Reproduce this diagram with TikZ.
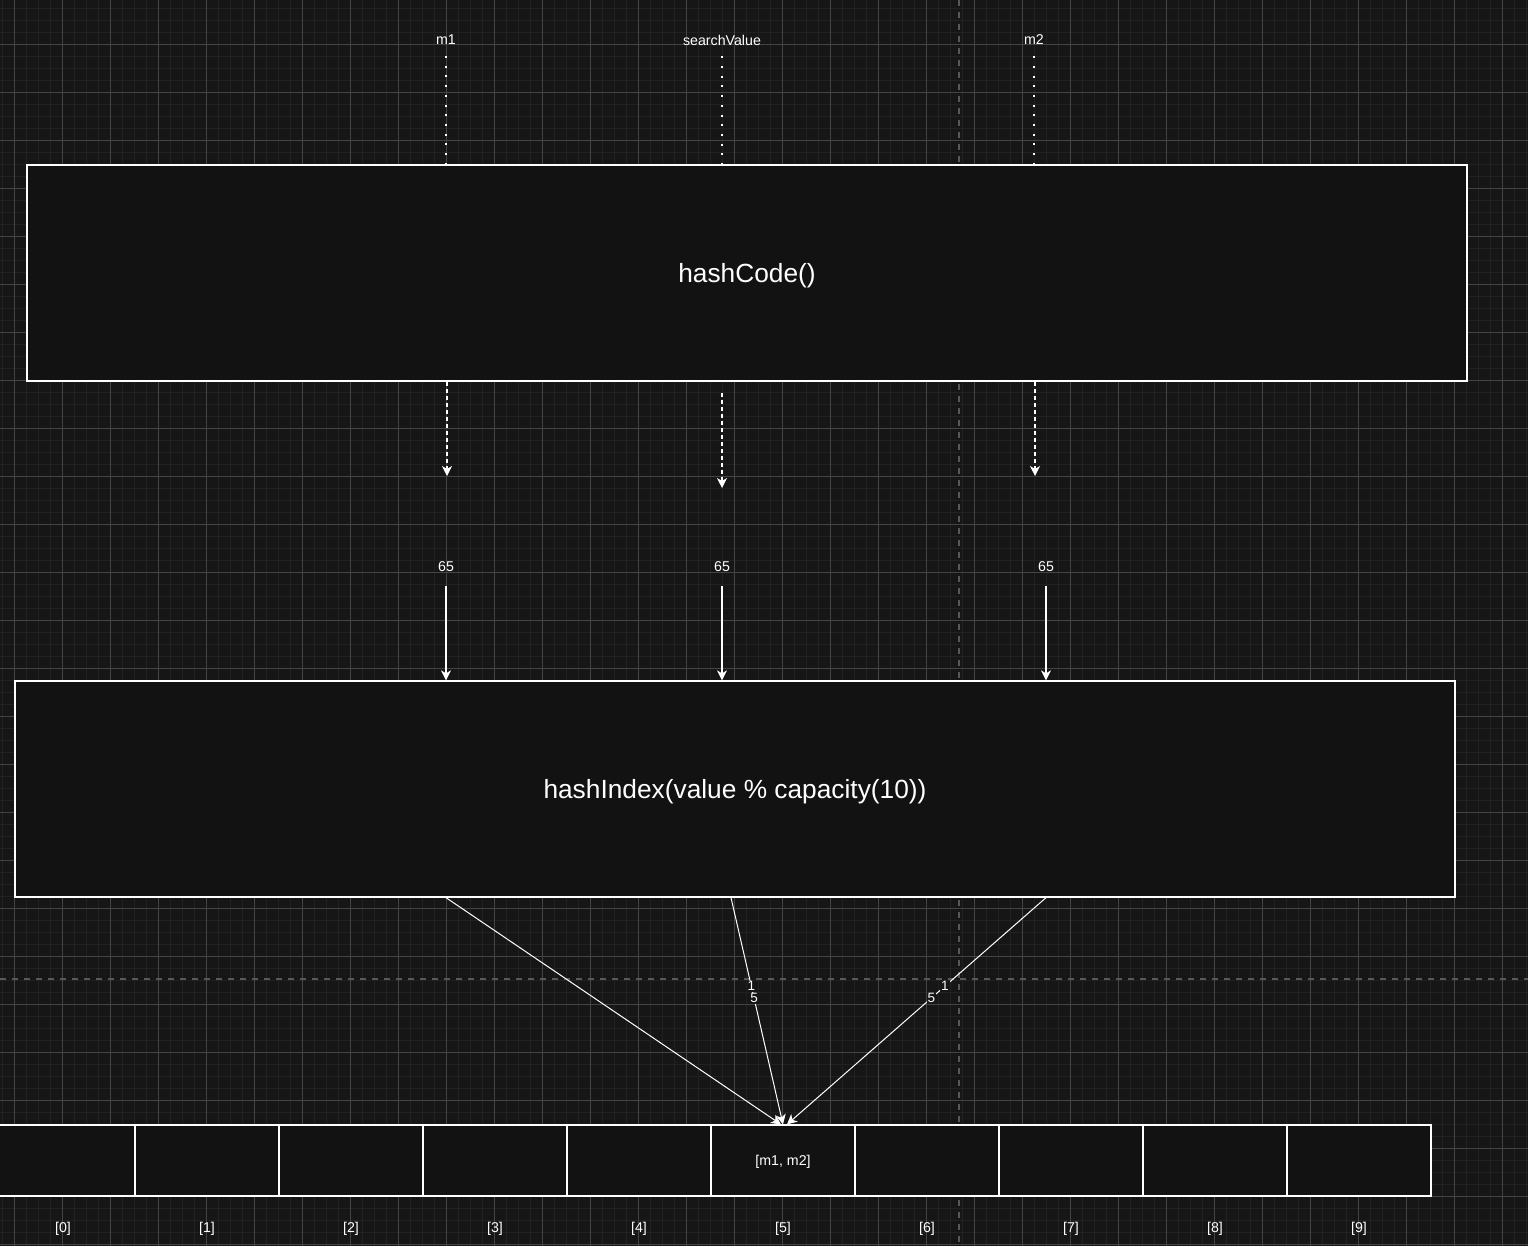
\documentclass[tikz,border=0pt]{standalone}
\usepackage{fontspec}
\setmainfont{Liberation Sans}
\usetikzlibrary{arrows.meta}

\definecolor{bgcol}{HTML}{161616}
\definecolor{boxcol}{HTML}{121212}
\definecolor{minorcol}{HTML}{212121}
\definecolor{majorcol}{HTML}{444444}
\definecolor{guidecol}{HTML}{585858}

\tikzset{
  box/.style={draw=white, line width=1.3pt, fill=boxcol, inner sep=0pt,
    minimum width=1440pt, minimum height=216pt, text=white, text depth=0pt,
    node font={\fontsize{26.3}{30}\selectfont}},
  cell/.style={draw=white, line width=1.2pt, fill=boxcol, inner sep=0pt,
    minimum width=144pt, minimum height=71pt, text=white,
    node font={\fontsize{14.2}{16}\selectfont}},
  lbl/.style={text=white, inner sep=0pt, text depth=0pt,
    node font={\fontsize{14.2}{16}\selectfont}},
  edgelbl/.style={text=white, fill=bgcol, inner sep=0.8pt, node font={\fontsize{13.5}{15}\selectfont}},
  dotline/.style={white, line width=2pt, dash pattern=on 2pt off 7.7pt},
  tip/.style={-{Stealth[length=10pt, width=10pt, inset=3pt]}},
  dasharrow/.style={white, line width=1.2pt, dash pattern=on 4pt off 3pt, tip},
  solidarrow/.style={white, line width=1.2pt, tip},
  plainline/.style={white, line width=1pt, tip}
}

\begin{document}
\begin{tikzpicture}[x=1pt, y=-1pt]

  % Background and grid
  \useasboundingbox (0,0) rectangle (1528,1246);
  \fill[bgcol] (0,0) rectangle (1528,1246);
  \foreach \k in {0,...,127}
    \draw[minorcol, line width=1pt] ({2.3+12*\k},0) -- ++(0,1246);
  \foreach \k in {0,...,103}
    \draw[minorcol, line width=1pt] (0,{8.3+12*\k}) -- ++(1528,0);
  \foreach \k in {0,...,31}
    \draw[majorcol, line width=1pt] ({14.3+48*\k},0) -- ++(0,1246);
  \foreach \k in {0,...,25}
    \draw[majorcol, line width=1pt] (0,{44.3+48*\k}) -- ++(1528,0);
  \draw[guidecol, line width=2pt, dash pattern=on 6pt off 6pt]
    (959,0) -- (959,1246)
    (0,979) -- (1528,979);

  % Inputs
  \node[lbl] (m1) at (446,40) {m1};
  \node[lbl] (sv) at (722,40) {searchValue};
  \node[lbl] (m2) at (1034,40) {m2};

  % Boxes
  \node[box] (hash) at (747,273) {hashCode()};
  \node[box] (hashIdx) at (735,789) {hashIndex(value \% capacity(10))};

  % Hash values
  \node[lbl] (v1) at (446,567) {65};
  \node[lbl] (v2) at (722,567) {65};
  \node[lbl] (v3) at (1046,567) {65};

  % Array
  \foreach \i in {0,...,9} {
    \node[cell] (c\i) at ({63+144*\i},1160.5) {};
    \node[lbl] (i\i) at ({63+144*\i},1227) {[\i]};
  }
  \node[lbl] at (c5) {[m1, m2]};

  % Into hashCode()
  \draw[dotline] ([yshift=-11pt]m1.south) -- (m1.south |- hash.north);
  \draw[dotline] ([yshift=-11pt]sv.south) -- (sv.south |- hash.north);
  \draw[dotline] ([yshift=-11pt]m2.south) -- (m2.south |- hash.north);

  % Out of hashCode()
  \coordinate (e1) at (447,476);
  \coordinate (e2) at (722,488);
  \coordinate (e3) at (1035,476);
  \draw[dasharrow] (hash.south -| e1) -- (e1);
  \draw[dasharrow] ([yshift=-11pt]hash.south -| e2) -- (e2);
  \draw[dasharrow] (hash.south -| e3) -- (e3);

  % Into hashIndex
  \draw[solidarrow] ([yshift=-14pt]v1.south) -- (v1.south |- hashIdx.north);
  \draw[solidarrow] ([yshift=-14pt]v2.south) -- (v2.south |- hashIdx.north);
  \draw[solidarrow] ([yshift=-14pt]v3.south) -- (v3.south |- hashIdx.north);

  % Into bucket [5]
  \draw[plainline] (hashIdx.south -| v1) -- ([xshift=-2pt]c5.north);
  \draw[plainline] ([xshift=-4pt]hashIdx.south) -- (c5.north)
    node[edgelbl, pos=0.39] {1}
    node[edgelbl, pos=0.443] {5};
  \draw[plainline] (hashIdx.south -| v3) -- ([xshift=4pt]c5.north)
    node[edgelbl, pos=0.39] {1}
    node[edgelbl, pos=0.443] {5};

\end{tikzpicture}
\end{document}
